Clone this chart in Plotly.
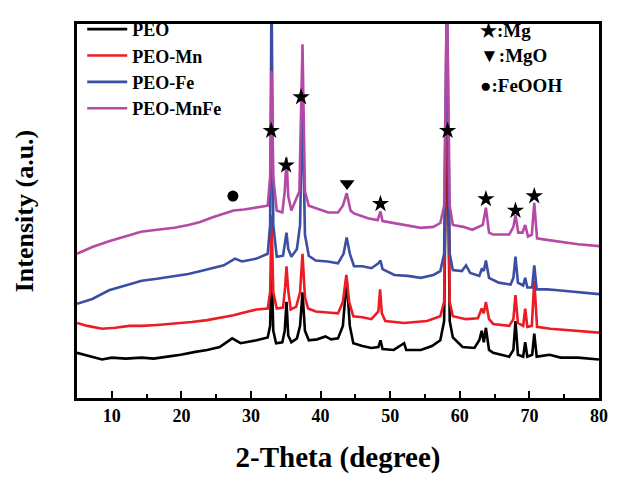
import plotly.graph_objects as go

# ---- data (2-theta in degrees, intensity in arbitrary units) ----
peo_x = [5, 6, 7, 8.6, 10, 12, 14.3, 16, 18, 19.9, 22, 23.7, 25.5, 27.3, 28.5, 30.8, 32.4, 32.75, 32.95, 33.2, 33.6,
         34.5, 34.85, 35.1, 35.35, 35.8, 36.6, 37.05, 37.4, 37.75, 38.3, 39.5, 40.7, 41.5, 42.5, 43.2, 43.75, 44.2,
         44.7, 46, 47.3, 48.3, 48.6, 48.9, 50.5, 52.0, 52.3, 54.4, 56.0, 57.2, 57.75, 58.15, 58.55, 59.0, 60.4, 62.1,
         62.8, 63.15, 63.45, 63.75, 64.2, 64.8, 67.1, 67.7, 68.0, 68.35, 69.1, 69.4, 69.7, 70.4, 70.7, 71.05, 72.9,
         74.5, 77, 80]
peo_y = [47, 45, 43, 40, 42, 41, 42, 41, 43, 45, 48, 50, 53, 62, 57, 60, 63, 75, 140, 70, 57,
         58, 70, 100, 65, 58, 62, 75, 110, 70, 60, 61, 64, 61, 62, 75, 123, 75,
         57, 54, 52, 53, 60, 51, 50, 57, 50, 50, 54, 60, 80, 340, 80, 63, 53, 52,
         60, 70, 58, 73, 50, 47, 43, 50, 80, 45, 43, 58, 43, 45, 67, 43, 45,
         42, 42, 40]

mn_x = [5, 6.5, 8.6, 10.5, 12.5, 14.3, 16.5, 18.5, 19.9, 21.5, 23.7, 25.5, 27.5, 29, 30.8, 32.4, 32.75, 32.95, 33.2,
        33.7, 34.6, 34.9, 35.1, 35.35, 35.7, 36.5, 37.05, 37.4, 37.75, 38.2, 39.3, 41, 42.5, 43.2, 43.7, 44.1, 44.7,
        46, 47.3, 48.3, 48.55, 48.8, 49.3, 52, 55.3, 57.2, 57.75, 58.15, 58.55, 59, 60.9, 62.6, 63.15, 63.45, 63.75,
        64.2, 64.8, 67.1, 67.7, 68.0, 68.35, 69.1, 69.4, 69.7, 70.35, 70.7, 71.1, 73, 75, 77.5, 80]
mn_y = [78, 75, 72, 73, 75, 75, 76, 77, 78, 79, 81, 83, 86, 89, 92, 93, 110, 190, 110,
        93, 94, 115, 137, 112, 92, 95, 110, 150, 105, 93, 90, 89, 88, 100, 128, 100, 85,
        84, 82, 90, 113, 88, 80, 78, 80, 85, 100, 370, 100, 85, 82, 83, 93, 88, 100,
        82, 77, 75, 82, 107, 78, 75, 93, 74, 75, 122, 74, 72, 71, 70, 68]

fe_x = [5, 7.2, 9.6, 12, 14.3, 16.5, 19, 21, 22.8, 24.5, 26.1, 27.7, 28.7, 30.8, 32.4, 32.75, 32.95, 33.2, 33.7,
        34.6, 34.9, 35.1, 35.35, 35.8, 36.6, 37.05, 37.4, 37.75, 38.3, 39.3, 41, 42.5, 43.3, 43.75, 44.2, 44.8, 46,
        47.3, 48.3, 48.6, 48.9, 50.6, 52.5, 54.4, 56.2, 57.2, 57.75, 58.15, 58.55, 59, 60.3, 60.9, 61.5, 62.8,
        63.2, 63.45, 63.75, 64.2, 65.6, 67.3, 67.7, 68.0, 68.35, 69.1, 69.4, 69.7, 70.4, 70.7, 71.05, 72.5, 74.1,
        77, 80]
fe_y = [98, 103, 112, 117, 122, 124, 127, 129, 132, 135, 138, 145, 142, 145, 150, 180, 430, 180, 147,
        148, 160, 172, 155, 147, 155, 180, 310, 170, 148, 143, 142, 140, 150, 167, 150, 137, 137,
        135, 140, 143, 134, 128, 127, 125, 128, 132, 150, 430, 150, 133, 132, 138, 130, 127,
        135, 132, 143, 125, 120, 118, 125, 147, 120, 117, 125, 115, 115, 138, 113, 113, 112,
        110, 108]

mnfe_x = [5, 7.2, 9.6, 12, 14.2, 16.5, 19, 21, 22.7, 24.5, 26.1, 27.5, 29, 30.8, 32.4, 32.75, 32.95, 33.2, 33.7,
          34.5, 34.85, 35.1, 35.35, 35.8, 36.3, 36.95, 37.4, 37.75, 38.3, 39.5, 41.1, 42.5, 43.2, 43.75, 44.3,
          44.8, 46.8, 48.2, 48.6, 48.9, 50.6, 52.5, 54.4, 56.2, 57.2, 57.75, 58.15, 58.55, 59, 60.5, 61.8, 63.3,
          63.75, 64.2, 64.8, 67.1, 67.7, 68.0, 68.4, 69.0, 69.4, 69.8, 70.35, 70.7, 71.1, 72, 74.1, 77, 80]
mnfe_y = [150, 157, 163, 168, 173, 175, 177, 180, 183, 188, 192, 195, 196, 198, 200, 230, 340, 230, 195,
          193, 215, 250, 210, 195, 203, 215, 368, 215, 200, 197, 193, 193, 200, 213, 195,
          192, 187, 185, 194, 184, 182, 180, 177, 178, 182, 200, 430, 200, 180, 178, 175, 180,
          198, 172, 170, 170, 178, 190, 172, 172, 180, 168, 170, 203, 166, 165, 163, 160, 158]

series_names = ["PEO", "PEO-Mn", "PEO-Fe", "PEO-MnFe"]
series_colors = ["#000000", "#ec1c24", "#3c4ea3", "#b54aa6"]

# phase markers (position of each label above its peak)
mg_x = [32.9, 35.05, 37.2, 48.6, 58.25, 63.75, 68.0, 70.7]
mg_y = [278, 242, 313, 202, 278, 207, 195, 210]
mgo_x = [43.8]
mgo_y = [223]
feooh_x = [27.4]
feooh_y = [210]

x_ticks = [10, 20, 30, 40, 50, 60, 70, 80]

FONT = "Liberation Serif"

fig = go.Figure()
for name, color, xs, ys in zip(series_names, series_colors,
                               [peo_x, mn_x, fe_x, mnfe_x], [peo_y, mn_y, fe_y, mnfe_y]):
    fig.add_trace(go.Scatter(x=xs, y=ys, mode="lines", name=name,
                             line=dict(color=color, width=2.6)))

fig.add_trace(go.Scatter(x=mg_x, y=mg_y, mode="markers", showlegend=False,
                         marker=dict(symbol="star", size=13, color="black")))
fig.add_trace(go.Scatter(x=mgo_x, y=mgo_y, mode="markers", showlegend=False,
                         marker=dict(symbol="triangle-down", size=13, color="black")))
fig.add_trace(go.Scatter(x=feooh_x, y=feooh_y, mode="markers", showlegend=False,
                         marker=dict(symbol="circle", size=11, color="black")))

for i, txt in enumerate(["★:Mg", "▼:MgO", "●:FeOOH"]):
    fig.add_annotation(xref="paper", yref="paper", x=0.768, y=[0.983, 0.917, 0.836][i],
                       xanchor="left", yanchor="middle", showarrow=False,
                       text="<b>%s</b>" % txt, font=dict(family=FONT, size=19, color="black"))

fig.update_layout(
    width=619, height=480,
    margin=dict(l=77, r=11, t=11, b=80),
    plot_bgcolor="white", paper_bgcolor="white",
    font=dict(family=FONT, color="black"),
    legend=dict(x=0.01, y=1.035, xanchor="left", yanchor="top",
                bgcolor="rgba(0,0,0,0)",
                font=dict(family=FONT, size=18, color="black", weight="bold"),
                itemwidth=40, tracegroupgap=0),
    xaxis=dict(range=[5, 80], tickvals=x_ticks, ticktext=["<b>%d</b>" % t for t in x_ticks],
               ticks="inside", ticklen=7, tickwidth=2, tickcolor="black",
               minor=dict(ticks="inside", ticklen=4, tickwidth=2, tickcolor="black", dtick=5, tick0=0),
               showline=True, linewidth=2.5, linecolor="black", mirror=True,
               showgrid=False, zeroline=False,
               tickfont=dict(family=FONT, size=18, color="black"),
               title=dict(text="<b>2-Theta (degree)</b>", font=dict(family=FONT, size=29, color="black"),
                          standoff=22)),
    yaxis=dict(range=[0, 389], showticklabels=False, ticks="",
               showline=True, linewidth=2.5, linecolor="black", mirror=True,
               showgrid=False, zeroline=False,
               title=dict(text="<b>Intensity (a.u.)</b>", font=dict(family=FONT, size=26, color="black"),
                          standoff=34)),
)
fig.write_html("out.html")
